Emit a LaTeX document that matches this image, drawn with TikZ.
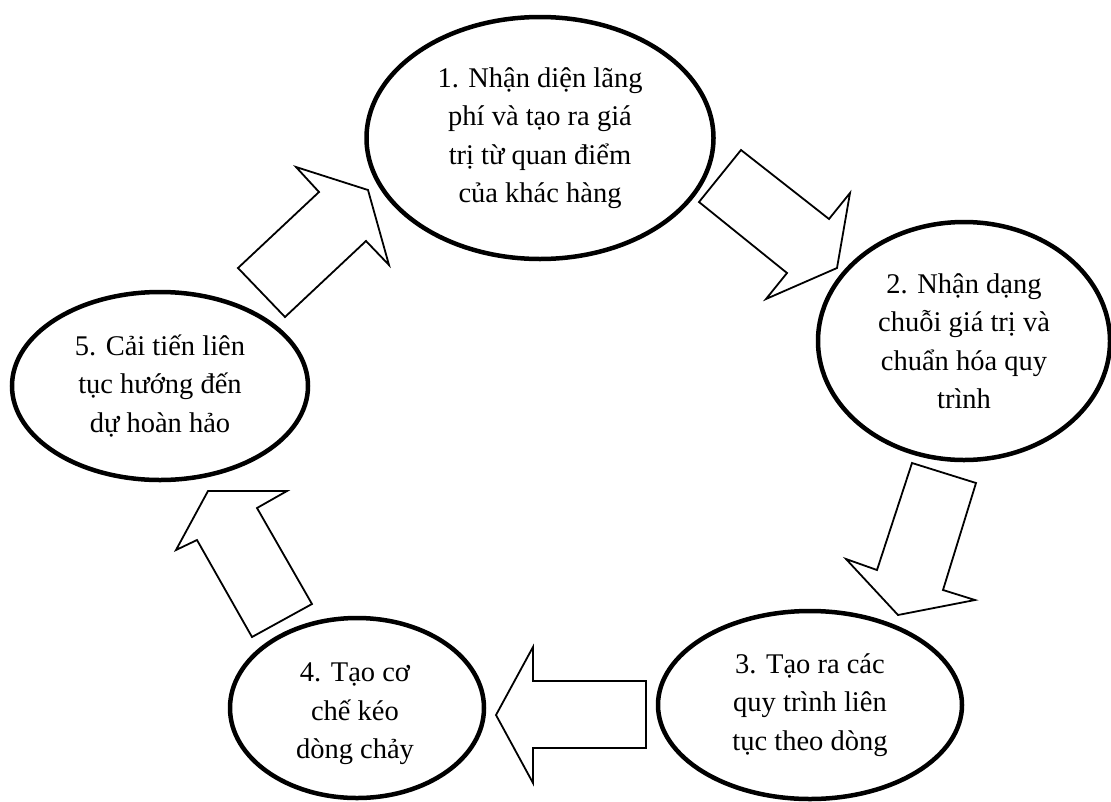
\documentclass[tikz,border=0pt]{standalone}
\usepackage{fontspec}
\setmainfont{Liberation Serif}
\usetikzlibrary{shapes.geometric}
\begin{document}
\begin{tikzpicture}[x=1pt,y=-1pt,
  stage/.style={draw, ellipse, line width=4.5pt, inner sep=0pt, align=center,
    font=\fontsize{28.5}{38.5}\selectfont},
  stagetext/.style={inner sep=0pt, align=center,
    font=\fontsize{28.5}{38.5}\selectfont},
  blockarrow/.style={draw, line width=1.8pt, line join=miter, fill=white}]
\clip (0,0) rectangle (1111,801);
\fill[white] (0,0) rectangle (1111,801);

% the five stages of the cycle
\node[stage, minimum width=347pt, minimum height=242pt] (s1) at (540,138)
  {1. Nhận diện lãng\\phí và tạo ra giá\\trị từ quan điểm\\của khác hàng};
\node[stage, minimum width=292pt, minimum height=238pt] (s2) at (964,341)
  {2. Nhận dạng\\chuỗi giá trị và\\chuẩn hóa quy\\trình};
\node[stage, minimum width=304pt, minimum height=188pt] (s3) at (810,705)
  {3. Tạo ra các\\quy trình liên\\tục theo dòng};
\node[stage, minimum width=254pt, minimum height=180pt] (s4) at (357,708) {};
\node[stagetext] (t4) at (355,714) {4. Tạo cơ\\chế kéo\\dòng chảy};
\node[stage, minimum width=296pt, minimum height=188pt] (s5) at (160,386)
  {5. Cải tiến liên\\tục hướng đến\\dự hoàn hảo};

% block arrows between the stages
\draw[blockarrow] (741,150) -- (829,219) -- (850,193) -- (837,268)
  -- (766,299) -- (787,273) -- (699,202) -- cycle;
\draw[blockarrow] (912,463) -- (976,483) -- (943,590) -- (975,600)
  -- (898,615) -- (846,559) -- (877,570) -- cycle;
\draw[blockarrow] (496,715) -- (533,647) -- (533,681) -- (646,681)
  -- (646,748) -- (533,748) -- (533,783) -- cycle;
\draw[blockarrow] (208,491) -- (287,491) -- (257,508) -- (312,604)
  -- (252,637) -- (197,540) -- (176,550) -- cycle;
\draw[blockarrow] (296,167) -- (368,190) -- (389,265) -- (366,241)
  -- (285,317) -- (238,268) -- (319,192) -- cycle;
\end{tikzpicture}
\end{document}
